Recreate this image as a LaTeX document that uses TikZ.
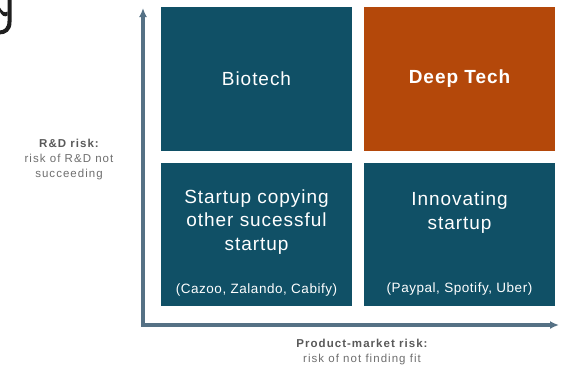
\documentclass[tikz,border=0pt]{standalone}
\usepackage{fontspec}
\setmainfont{Liberation Sans}
\newfontfamily\boxfont[LetterSpace=5]{Liberation Sans}
\newfontfamily\exfont[LetterSpace=4]{Liberation Sans}
\newfontfamily\lblfont[LetterSpace=9]{Liberation Sans}
\usetikzlibrary{arrows.meta}
\definecolor{teal}{RGB}{16,80,102}
\definecolor{rust}{RGB}{180,72,10}
\definecolor{axis}{RGB}{85,113,133}
\definecolor{lblbold}{RGB}{89,89,89}
\definecolor{lbltext}{RGB}{110,110,110}
\begin{document}
\begin{tikzpicture}[x=1pt,y=-1pt,
  quad/.style={draw=none,minimum width=191pt,minimum height=144pt,inner sep=0pt,outer sep=0pt},
  title/.style={text=white,font=\boxfont\fontsize{19}{23.5}\selectfont,align=center,anchor=base,inner sep=0pt},
  example/.style={text=white,font=\exfont\fontsize{13.5}{16}\selectfont,anchor=base,inner sep=0pt},
  axislabel/.style={font=\lblfont\fontsize{11.5}{15}\selectfont,align=center,anchor=base,inner sep=0pt},
  axisline/.style={draw=axis,line width=3.2pt,line join=miter}]
\useasboundingbox (0,0) rectangle (561,365);
% cropped glyph fragment at top left
\fill[black!88] (7.5,-1) -- (11.5,-1) -- (11.5,22) .. controls (11.5,31) and (6,34.5) .. (-1,34.5)
  -- (-1,30.5) .. controls (4,30.5) and (7.5,28) .. (7.5,21) -- cycle;
\fill[black!88] (-1,10) .. controls (1.5,16) and (5,17.5) .. (7.5,15.5) -- (7.5,11.5)
  .. controls (5,13.5) and (2,12) .. (-1,6) -- cycle;
% quadrants
\node[quad,fill=teal] (tl) at (256.5,79) {};
\node[quad,fill=rust] (tr) at (459.5,79) {};
\node[quad,fill=teal,minimum height=143pt] (bl) at (256.5,234.5) {};
\node[quad,fill=teal,minimum height=143pt] (br) at (459.5,234.5) {};
% titles (multi-line nodes: base anchor sits on the last line)
\node[title] (biotech) at (256.5,85) {Biotech};
\node[title,font=\boxfont\bfseries\fontsize{19}{23.5}\selectfont] (deeptech) at (459.5,83) {Deep Tech};
\node[title] (copying) at (256.5,250) {Startup copying\\other sucessful\\startup};
\node[title] (innovating) at (459.5,229) {Innovating\\startup};
\node[example] (exbl) at (256.5,293) {(Cazoo, Zalando, Cabify)};
\node[example] (exbr) at (459.5,292) {(Paypal, Spotify, Uber)};
% axes
\coordinate (corner) at (143,325);
\coordinate (ytip) at (143,8);
\coordinate (xtip) at (559,325);
\draw[axisline,{Latex[length=9pt,width=8pt]}-{Latex[length=9pt,width=8pt]}] (ytip) -- (corner) -- (xtip);
% axis labels
\node[axislabel] (rdrisk) at (69,177) {\textcolor{lblbold}{\bfseries R\&D risk:}\\\textcolor{lbltext}{risk of R\&D not}\\\textcolor{lbltext}{succeeding}};
\node[axislabel] (pmrisk) at (362,362) {\textcolor{lblbold}{\bfseries Product-market risk:}\\\textcolor{lbltext}{risk of not finding fit}};
\end{tikzpicture}
\end{document}
